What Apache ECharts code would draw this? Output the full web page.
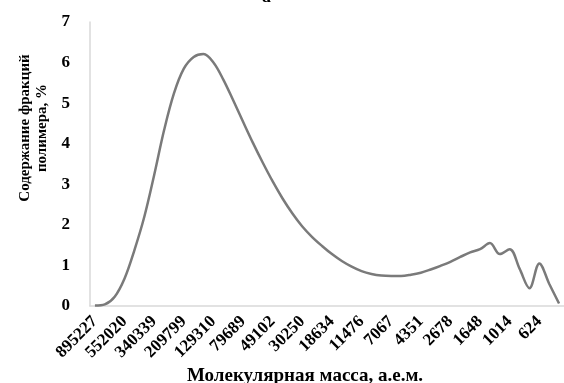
<!DOCTYPE html>
<html>
<head>
<meta charset="utf-8">
<script src="https://cdn.jsdelivr.net/npm/echarts@6/dist/echarts.min.js"></script>
<style>html,body{margin:0;padding:0;background:#fff;}#c{width:564px;height:383px;}</style>
</head>
<body>
<div id="c"></div>
<script>
var categories = [
  '895227','761800','648300','552020','469700','399800','340339','289600','246500','209799',
  '178500','151900','129310','110000','93600','79689','67800','57700','49102','41800',
  '35500','30250','25700','21900','18634','15900','13500','11476','9770','8310',
  '7067','6010','5120','4351','3700','3150','2678','2280','1940','1648',
  '1400','1190','1014','863','734','624','531','452'
];
var values = [
  0.01,0.04,0.23,0.68,1.38,2.20,3.23,4.33,5.24,5.85,
  6.14,6.21,6.00,5.58,5.07,4.54,4.02,3.53,3.07,2.65,
  2.28,1.96,1.70,1.48,1.28,1.11,0.97,0.86,0.79,0.75,
  0.74,0.74,0.77,0.82,0.90,0.99,1.09,1.21,1.32,1.40,
  1.55,1.28,1.40,0.92,0.44,1.05,0.55,0.06
];
var yTicks = [0,1,2,3,4,5,6,7];
var titleText = 'а';
var yName = ['Содержание фракций', 'полимера, %'];
var xName = 'Молекулярная масса, а.е.м.';

var font = '"Liberation Serif","Times New Roman",serif';
var chart = echarts.init(document.getElementById('c'), null, {renderer:'canvas'});
chart.setOption({
  animation: false,
  backgroundColor: '#fff',
  grid: {left: 90, right: 0, top: 22, bottom: 77, containLabel: false},
  xAxis: {
    type: 'category',
    data: categories,
    boundaryGap: true,
    axisLine: {lineStyle: {color: '#d9d9d9', width: 1.5}},
    axisTick: {show: false},
    axisLabel: {interval: 2, rotate: 45, margin: 13, color: '#000', fontFamily: font, fontWeight: 'bold', fontSize: 17}
  },
  yAxis: {
    type: 'value', min: yTicks[0], max: yTicks[yTicks.length-1], interval: 1,
    axisLine: {show: true, lineStyle: {color: '#d9d9d9', width: 1.5}},
    axisTick: {show: false},
    splitLine: {show: false},
    axisLabel: {margin: 20, color: '#000', fontFamily: font, fontWeight: 'bold', fontSize: 17}
  },
  graphic: [
    {type: 'text', left: 262, top: -12, style: {text: titleText, fill: '#000', font: 'bold 18px ' + font}},
    {type: 'text', x: 34, y: 128, rotation: Math.PI/2,
     style: {text: yName.join('\n'), fill: '#000', font: 'bold 15px ' + font, textAlign: 'center', textVerticalAlign: 'middle', lineHeight: 17}},
    {type: 'text', x: 305, y: 376,
     style: {text: xName, fill: '#000', font: 'bold 19px ' + font, textAlign: 'center', textVerticalAlign: 'middle'}}
  ],
  series: [{
    type: 'line',
    data: values,
    smooth: 0.35,
    symbol: 'none',
    lineStyle: {color: '#7a7a7a', width: 2.5}
  }]
});
</script>
</body>
</html>
